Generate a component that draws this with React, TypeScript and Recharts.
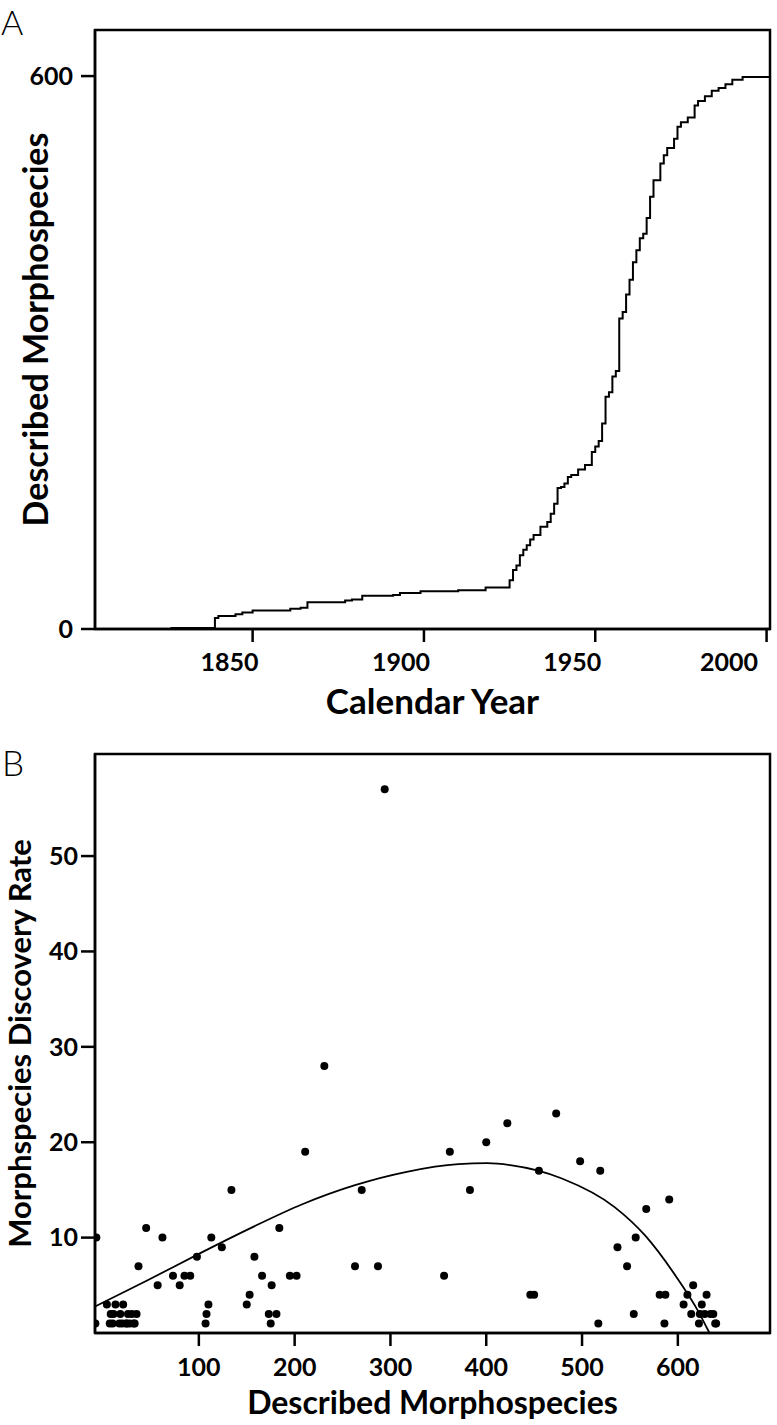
import React from "react";
import {
  ComposedChart,
  Line,
  LineChart,
  ReferenceArea,
  Scatter,
  XAxis,
  YAxis,
} from "recharts";

// Panel A: cumulative described morphospecies by calendar year (step curve)
const stepYears = [
  1826, 1839, 1840, 1845, 1847, 1850, 1861, 1864, 1866, 1877, 1879, 1882, 1891,
  1893, 1899, 1910, 1918, 1925, 1926, 1927, 1928, 1929, 1930, 1931, 1932, 1934,
  1936, 1937, 1938, 1939, 1940, 1941, 1942, 1943, 1945, 1947, 1949, 1950, 1951,
  1952, 1953, 1954, 1955, 1956, 1957, 1958, 1959, 1960, 1961, 1962, 1963, 1964,
  1965, 1966, 1967, 1969, 1970, 1971, 1973, 1974, 1975, 1977, 1979, 1980, 1982,
  1984, 1986, 1988, 1990, 1993, 2001,
];
const stepCounts = [
  1, 12, 14, 16, 18, 20, 22, 23, 29, 31, 32, 36, 37, 39, 41, 42, 45, 53, 64, 69,
  80, 86, 91, 97, 102, 111, 116, 125, 136, 153, 154, 158, 165, 167, 173, 178,
  192, 198, 204, 223, 252, 257, 274, 280, 337, 344, 363, 379, 398, 411, 424, 429,
  446, 469, 487, 505, 514, 522, 532, 545, 550, 555, 568, 573, 578, 584, 587, 591,
  596, 599, 599,
];
const yearTicks = [1850, 1900, 1950, 2000];
const countTicks = [0, 600];

// Panel B: discovery rate against described morphospecies
const describedX = [
  -8, -7, 4, 7, 8, 10, 11, 13, 17, 18, 20, 21, 24, 25, 26, 28, 30, 32, 33, 35,
  37, 45, 57, 62, 73, 80, 85, 91, 98, 107, 108, 110, 113, 124, 134, 150, 153, 158,
  166, 173, 175, 176, 181, 184, 195, 202, 211, 231, 263, 270, 287, 294, 356, 362,
  383, 400, 422, 446, 450, 455, 473, 498, 517, 519, 537, 547, 554, 556, 567, 581,
  586, 587, 591, 606, 610, 614, 616, 622, 623, 625, 628, 630, 634, 637, 639, 640,
];
const discoveryRate = [
  1, 10, 3, 1, 2, 1, 2, 3, 1, 2, 1, 3, 1, 1, 2, 1, 2, 1, 1, 2, 7, 11, 5, 10, 6,
  5, 6, 6, 8, 1, 2, 3, 10, 9, 15, 3, 4, 8, 6, 2, 1, 5, 2, 11, 6, 6, 19, 28, 7, 15,
  7, 57, 6, 19, 15, 20, 22, 4, 4, 17, 23, 18, 1, 17, 9, 7, 2, 10, 13, 4, 1, 4, 14,
  3, 4, 2, 5, 1, 2, 3, 2, 4, 2, 2, 1, 1,
];
const fitX = [-8, 46, 100, 154, 208, 263, 317, 371, 401, 425, 479, 534, 566, 599, 620, 633];
const fitY = [2.8, 5.5, 8.3, 11, 13.5, 15.5, 16.9, 17.7, 17.8, 17.6, 16.2, 13.2, 10.2, 5.8, 2.5, 0];
const describedTicks = [100, 200, 300, 400, 500, 600];
const rateTicks = [10, 20, 30, 40, 50];

const cumulative = stepYears.map((year, i) => ({ year, count: stepCounts[i] }));
const rates = describedX.map((x, i) => ({ x, y: discoveryRate[i] }));
const fit = fitX.map((x, i) => ({ x, y: fitY[i] }));

const FONT = "Lato, 'Liberation Sans', sans-serif";
const tickStyle = { fontSize: 25, fontWeight: 700, fill: "#000", fontFamily: FONT };
const title = (size: number) => ({ fontSize: size, fontWeight: 700, fill: "#000", fontFamily: FONT, textAnchor: "middle" as const });
const axisLine = { stroke: "#000", strokeWidth: 2.5 };

const Dot = (p: any) => <circle cx={p.cx} cy={p.cy} r={4} fill="#000" />;

export default function App() {
  return (
    <div style={{ position: "absolute", left: 0, top: 0, width: 777, height: 1425, background: "#fff" }}>
      <div style={{ position: "absolute", left: 1, top: 5, fontSize: 34, fontFamily: FONT, fontWeight: 300, lineHeight: 1 }}>A</div>
      <div style={{ position: "absolute", left: 2, top: 745, fontSize: 35, fontFamily: FONT, fontWeight: 300, lineHeight: 1 }}>B</div>

      <div style={{ position: "absolute", left: 0, top: 0 }}>
        <LineChart width={777} height={729} data={cumulative} margin={{ top: 30, right: 7, left: 0, bottom: 0 }}>
          <XAxis
            dataKey="year"
            type="number"
            domain={[1804, 2001]}
            ticks={yearTicks}
            allowDataOverflow
            height={100}
            tickSize={13}
            tickMargin={11}
            axisLine={axisLine}
            tickLine={axisLine}
            tick={{ ...tickStyle, dx: -23 }}
            label={{ value: "Calendar Year", position: "insideBottom", offset: 15, style: title(35) }}
          />
          <YAxis
            type="number"
            domain={[0, 650]}
            ticks={countTicks}
            allowDataOverflow
            width={95}
            tickSize={14}
            tickMargin={8}
            axisLine={axisLine}
            tickLine={axisLine}
            tick={tickStyle}
            label={{ value: "Described Morphospecies", angle: -90, position: "insideLeft", offset: 36, style: title(34) }}
          />
          <ReferenceArea x1={1804} x2={2001} y1={0} y2={650} fill="none" stroke="#000" strokeWidth={2.5} ifOverflow="visible" />
          <Line type="stepAfter" dataKey="count" stroke="#000" strokeWidth={2} dot={false} isAnimationActive={false} />
        </LineChart>
      </div>

      <div style={{ position: "absolute", left: 0, top: 730 }}>
        <ComposedChart width={777} height={695} margin={{ top: 24, right: 7, left: 0, bottom: 0 }}>
          <XAxis
            dataKey="x"
            type="number"
            domain={[-8.4, 696.2]}
            ticks={describedTicks}
            allowDataOverflow
            height={92}
            tickSize={13}
            tickMargin={12}
            axisLine={axisLine}
            tickLine={axisLine}
            tick={tickStyle}
            label={{ value: "Described Morphospecies", position: "insideBottom", offset: 11, style: title(32) }}
          />
          <YAxis
            dataKey="y"
            type="number"
            domain={[0, 60.7]}
            ticks={rateTicks}
            allowDataOverflow
            width={95}
            tickSize={14}
            tickMargin={3}
            axisLine={axisLine}
            tickLine={axisLine}
            tick={tickStyle}
            label={{ value: "Morphspecies Discovery Rate", angle: -90, position: "insideLeft", offset: 20, style: title(31) }}
          />
          <ReferenceArea x1={-8.4} x2={696.2} y1={0} y2={60.7} fill="none" stroke="#000" strokeWidth={2.5} ifOverflow="visible" />
          <Line data={fit} type="monotone" dataKey="y" stroke="#000" strokeWidth={1.8} dot={false} isAnimationActive={false} />
          <Scatter data={rates} dataKey="y" shape={Dot} isAnimationActive={false} />
        </ComposedChart>
      </div>
    </div>
  );
}
